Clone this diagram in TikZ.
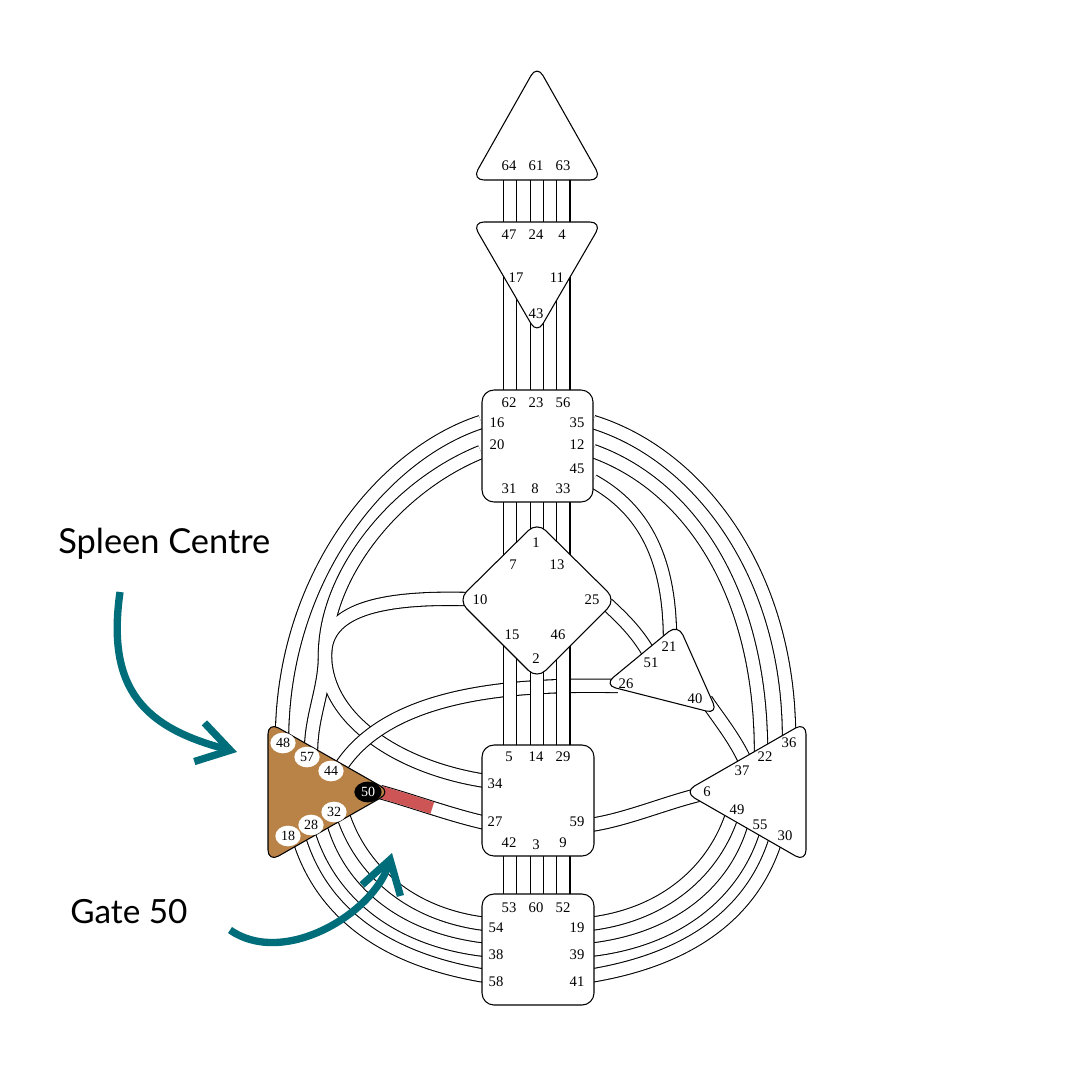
\documentclass[tikz,border=0pt]{standalone}
\usepackage{fontspec}
\setmainfont{Liberation Serif}
\newfontfamily\annfont{Lato}
\usetikzlibrary{arrows.meta,shapes.geometric}
\definecolor{spleenbrown}{RGB}{185,131,71}
\definecolor{gatered}{RGB}{205,85,85}
\definecolor{arrowteal}{RGB}{0,110,122}
\begin{document}
\begin{tikzpicture}[x=0.75pt,y=-0.75pt,
  chan/.style={line width=0.8pt, draw=black, double=white, double distance=9.2pt},
  chanout/.style={line width=10.8pt, draw=black},
  chanin/.style={line width=9.2pt, draw=white},
  centre/.style={draw=black, line width=0.8pt, fill=white, rounded corners=9pt, line join=round},
  gl/.style={font=\fontsize{11}{12}\selectfont, inner sep=0pt},
  sg/.style={ellipse, fill=white, inner sep=0pt, minimum width=19pt, minimum height=15.5pt, font=\fontsize{10.5}{11}\selectfont},
  sgon/.style={sg, fill=black, text=white, minimum width=20.5pt},
  pointer/.style={draw=arrowteal, line width=5.5pt, -{Straight Barb[length=24pt,width=30pt]}},
  ann/.style={font=\annfont\fontsize{25}{30}\selectfont, inner sep=0pt, anchor=base west}
]
\fill[white] (0,0) rectangle (1080,1080);
\useasboundingbox (0,0) rectangle (1080,1080);

% ---------- gate attachment points ----------
\coordinate (c64) at (509.7,176); \coordinate (c47) at (509.7,226);
\coordinate (c61) at (536.7,176); \coordinate (c24) at (536.7,226);
\coordinate (c63) at (563.3,176); \coordinate (c4)  at (563.3,226);
\coordinate (c17) at (509.7,262); \coordinate (c62) at (509.7,394);
\coordinate (c43) at (536.7,312); \coordinate (c23) at (536.7,394);
\coordinate (c11) at (563.3,262); \coordinate (c56) at (563.3,394);
\coordinate (c31) at (509.7,498); \coordinate (c7)  at (509.7,566);
\coordinate (c8)  at (536.7,498); \coordinate (c1)  at (536.7,534);
\coordinate (c33) at (563.3,498); \coordinate (c13) at (563.3,566);
\coordinate (c15) at (509.7,634); \coordinate (c5)  at (509.7,750);
\coordinate (c2)  at (536.7,666); \coordinate (c14) at (536.7,750);
\coordinate (c46) at (563.3,634); \coordinate (c29) at (563.3,750);
\coordinate (c42) at (509.7,851); \coordinate (c53) at (509.7,898);
\coordinate (c3)  at (536.7,851); \coordinate (c60) at (536.7,898);
\coordinate (c9)  at (563.3,851); \coordinate (c52) at (563.3,898);

\coordinate (c16) at (481,422); \coordinate (c48) at (282,740);
\coordinate (c20) at (481,452); \coordinate (c57) at (311,752);
\coordinate (c10) at (466,599); \coordinate (c34) at (486,781);
\coordinate (merge) at (325,655);

\coordinate (c35) at (593,422); \coordinate (c36) at (789,737);
\coordinate (c12) at (593,451); \coordinate (c22) at (761,752);
\coordinate (c45) at (593,481); \coordinate (c21) at (670,640);
\coordinate (c25) at (607,604); \coordinate (c51) at (650,655);
\coordinate (c26) at (618,686); \coordinate (c44) at (340,768);
\coordinate (c40) at (706,700); \coordinate (c37) at (748,768);
\coordinate (c59) at (590,825); \coordinate (c6)  at (698,795);
\coordinate (c50) at (380,792); \coordinate (c27) at (486,823);

\coordinate (c32) at (342,812); \coordinate (c54) at (486,924);
\coordinate (c28) at (320,825); \coordinate (c38) at (486,950);
\coordinate (c18) at (298,835); \coordinate (c58) at (486,976);
\coordinate (c49) at (733,812); \coordinate (c19) at (589,924);
\coordinate (c55) at (755,825); \coordinate (c39) at (589,950);
\coordinate (c30) at (777,835); \coordinate (c41) at (589,976);

% ---------- curved channels ----------
\draw[chan] (c16) .. controls (380,455) and (282,580) .. (c48);
% integration group (merged double lines)
\draw[chanout] (c20) .. controls (395,487) and (325,575) .. (merge) .. controls (325,690) and (311,715) .. (c57);
\draw[chanout] (c10) .. controls (380,597) and (325,610) .. (merge) .. controls (325,720) and (400,768) .. (c34);
\draw[chanin] (c20) .. controls (395,487) and (325,575) .. (merge) .. controls (325,690) and (311,715) .. (c57);
\draw[chanin] (c10) .. controls (380,597) and (325,610) .. (merge) .. controls (325,720) and (400,768) .. (c34);

\draw[chan] (c35) .. controls (700,455) and (789,575) .. (c36);
\draw[chan] (c12) .. controls (688,485) and (761,590) .. (c22);
\draw[chan] (c45) .. controls (645,510) and (670,560) .. (c21);
\draw[chan] (c25) .. controls (622,618) and (637,632) .. (c51);
\draw[chan] (c40) .. controls (718,718) and (738,742) .. (c37);
\draw[chan] (c59) .. controls (625,820) and (665,803) .. (c6);
\draw[chan] (c26) .. controls (520,684) and (390,690) .. (c44);
\draw[chan] (c50) .. controls (410,800) and (450,815) .. (c27);
\draw[draw=gatered, line width=9.2pt, dash pattern=on 41pt off 600pt] (c50) .. controls (410,800) and (450,815) .. (c27);

\draw[chan] (c32) .. controls (360,870) and (410,915) .. (c54);
\draw[chan] (c28) .. controls (338,890) and (395,940) .. (c38);
\draw[chan] (c18) .. controls (318,905) and (375,958) .. (c58);
\draw[chan] (c49) .. controls (715,870) and (665,915) .. (c19);
\draw[chan] (c55) .. controls (737,890) and (680,940) .. (c39);
\draw[chan] (c30) .. controls (757,905) and (700,958) .. (c41);

% ---------- vertical channels ----------
\foreach \a/\b in {c64/c47,c61/c24,c63/c4,c17/c62,c43/c23,c11/c56,c31/c7,c8/c1,c33/c13,c15/c5,c2/c14,c46/c29,c42/c53,c3/c60,c9/c52}
  \draw[chan] (\a) -- (\b);

% ---------- centres ----------
\draw[centre] (472,180) -- (537,65) -- (602,180) -- cycle;      % head
\draw[centre] (472,222) -- (602,222) -- (537,334) -- cycle;     % ajna
\draw[centre] (482,390) rectangle (593,502);                   % throat
\draw[centre] (537,522) -- (616,600) -- (537,679) -- (458,600) -- cycle; % G
\draw[centre] (678,624) -- (718,714) -- (604,685) -- cycle;     % ego
\draw[centre] (482,745) rectangle (594,856);                   % sacral
\draw[centre] (482,894) rectangle (594,1005);                  % root
\draw[centre, fill=spleenbrown] (268,722) -- (391,792) -- (268,862) -- cycle; % spleen
\draw[centre] (806,722) -- (806,862) -- (684,792) -- cycle;     % solar plexus

% ---------- gate numbers ----------
\node[gl] (n64) at (509,166) {64}; \node[gl] (n61) at (536,166) {61}; \node[gl] (n63) at (563,166) {63};
\node[gl] (n47) at (509,235) {47}; \node[gl] (n24) at (536,235) {24}; \node[gl] (n4) at (562,235) {4};
\node[gl] (n17) at (516,278) {17}; \node[gl] (n11) at (557,278) {11}; \node[gl] (n43) at (536,314) {43};
\node[gl] (n62) at (509,403) {62}; \node[gl] (n23) at (536,403) {23}; \node[gl] (n56) at (563,403) {56};
\node[gl] (n16) at (497,423) {16}; \node[gl] (n20) at (497,445) {20};
\node[gl] (n35) at (577,423) {35}; \node[gl] (n12) at (577,445) {12}; \node[gl] (n45) at (577,469) {45};
\node[gl] (n31) at (509,489) {31}; \node[gl] (n8) at (535,489) {8}; \node[gl] (n33) at (563,489) {33};
\node[gl] (n1) at (536,543) {1}; \node[gl] (n7) at (513,565) {7}; \node[gl] (n13) at (557,565) {13};
\node[gl] (n10) at (480,600) {10}; \node[gl] (n25) at (592,600) {25};
\node[gl] (n15) at (512,635) {15}; \node[gl] (n46) at (558,635) {46}; \node[gl] (n2) at (536,659) {2};
\node[gl] (n21) at (669,647) {21}; \node[gl] (n51) at (651,663) {51}; \node[gl] (n26) at (626,684) {26}; \node[gl] (n40) at (695,699) {40};
\node[gl] (n5) at (509,757) {5}; \node[gl] (n14) at (536,757) {14}; \node[gl] (n29) at (563,757) {29};
\node[gl] (n34) at (495,784) {34}; \node[gl] (n27) at (495,822) {27}; \node[gl] (n59) at (577,822) {59};
\node[gl] (n42) at (509,843) {42}; \node[gl] (n3) at (536,845) {3}; \node[gl] (n9) at (563,843) {9};
\node[gl] (n53) at (509,908) {53}; \node[gl] (n60) at (536,908) {60}; \node[gl] (n52) at (563,908) {52};
\node[gl] (n54) at (496,928) {54}; \node[gl] (n38) at (496,955) {38}; \node[gl] (n58) at (496,982) {58};
\node[gl] (n19) at (577,928) {19}; \node[gl] (n39) at (577,955) {39}; \node[gl] (n41) at (577,982) {41};
\node[gl] (n36) at (789,743) {36}; \node[gl] (n22) at (765,757) {22}; \node[gl] (n37) at (742,771) {37};
\node[gl] (n6) at (707,792) {6}; \node[gl] (n49) at (737,810) {49}; \node[gl] (n55) at (760,825) {55}; \node[gl] (n30) at (785,836) {30};

\node[sg] (s48) at (283,743) {48}; \node[sg] (s57) at (307,757) {57}; \node[sg] (s44) at (331,771) {44};
\node[sgon] (s50) at (368,792) {50};
\node[sg] (s32) at (334,812) {32}; \node[sg] (s28) at (311,825) {28}; \node[sg] (s18) at (288,836) {18};

% ---------- annotations ----------
\node[ann, font=\annfont\fontsize{25.8}{30}\selectfont] (lblspleen) at (58,553) {Spleen Centre};
\node[ann] (lblgate) at (70,923) {Gate 50};
\coordinate (a1s) at (120,592); \coordinate (a1e) at (237,752);
\coordinate (a2s) at (230,930); \coordinate (a2e) at (392,853);
\draw[pointer] (a1s) .. controls (106,690) and (145,728) .. (a1e);
\draw[pointer] (a2s) .. controls (285,968) and (375,912) .. (a2e);
\end{tikzpicture}
\end{document}
